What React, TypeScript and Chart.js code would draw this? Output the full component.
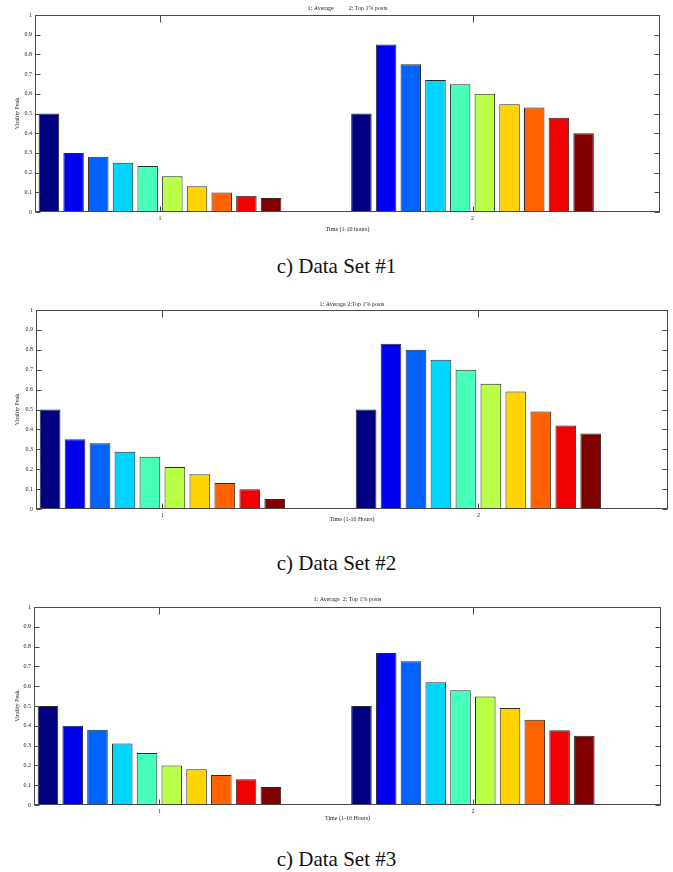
import React, { useEffect, useRef } from 'react';
import { Chart, registerables } from 'chart.js';

Chart.register(...registerables);

// ---------- data ----------
const categoryPositions = [1, 2];
const categoryLabels = ['1', '2'];
const yTicks = [0, 0.1, 0.2, 0.3, 0.4, 0.5, 0.6, 0.7, 0.8, 0.9, 1];
const yTickLabels = ['0', '0.1', '0.2', '0.3', '0.4', '0.5', '0.6', '0.7', '0.8', '0.9', '1'];
const hourLabels = ['1', '2', '3', '4', '5', '6', '7', '8', '9', '10'];
const jetColors = ['#000080', '#0000F0', '#0063FF', '#00D4FF', '#47FFB8', '#B8FF47', '#FFD400', '#FF6300', '#F00000', '#800000'];

const set1Average = [0.5, 0.3, 0.28, 0.25, 0.233, 0.182, 0.131, 0.099, 0.082, 0.071];
const set1Top = [0.5, 0.85, 0.75, 0.67, 0.648, 0.6, 0.547, 0.53, 0.479, 0.4];
const set2Average = [0.5, 0.35, 0.33, 0.288, 0.263, 0.211, 0.174, 0.131, 0.099, 0.05];
const set2Top = [0.5, 0.83, 0.8, 0.75, 0.7, 0.63, 0.59, 0.49, 0.42, 0.38];
const set3Average = [0.5, 0.4, 0.38, 0.31, 0.262, 0.2, 0.18, 0.151, 0.13, 0.091];
const set3Top = [0.5, 0.768, 0.726, 0.62, 0.58, 0.548, 0.49, 0.43, 0.378, 0.35];

const W = 673;
const H = 240;
const SERIF = "'Liberation Serif', 'Times New Roman', serif";

const framePlugin = {
  id: 'matlabFrame',
  afterDatasetsDraw(chart: any) {
    const { ctx, chartArea: a, scales } = chart;
    ctx.save();
    ctx.strokeStyle = '#4a4a4a';
    ctx.lineWidth = 1;
    const l = Math.round(a.left) + 0.5;
    const r = Math.round(a.right) - 0.5;
    const t = Math.round(a.top) + 0.5;
    const b = Math.round(a.bottom) - 0.5;
    ctx.strokeRect(l, t, r - l, b - t);
    ctx.beginPath();
    yTicks.forEach((v) => {
      const y = Math.round(scales.y.getPixelForValue(v)) + 0.5;
      ctx.moveTo(l, y);
      ctx.lineTo(l + 5, y);
      ctx.moveTo(r, y);
      ctx.lineTo(r - 5, y);
    });
    categoryPositions.forEach((v) => {
      const x = Math.round(scales.x.getPixelForValue(v)) + 0.5;
      ctx.moveTo(x, b);
      ctx.lineTo(x, b - 5);
      ctx.moveTo(x, t);
      ctx.lineTo(x, t + 7);
    });
    ctx.stroke();
    ctx.restore();
  },
};

type Area = { left: number; right: number; top: number; bottom: number };

function Panel(props: {
  avg: number[];
  top: number[];
  title: string;
  xTitle: string;
  area: Area;
  titleY: number;
  xTitleY: number;
  canvasTop: number;
}) {
  const ref = useRef<HTMLCanvasElement>(null);
  useEffect(() => {
    const { avg, top, title, xTitle, area, titleY, xTitleY } = props;
    const font = { family: SERIF, size: 6, weight: 'normal' as const, lineHeight: 1.2 };
    const datasets = hourLabels.map((h, k) => ({
      label: h,
      data: categoryPositions.map((x, i) => ({ x, y: i === 0 ? avg[k] : top[k] })),
      backgroundColor: jetColors[k],
      borderColor: '#2a2a2a',
      borderWidth: 1,
      borderSkipped: false,
      categoryPercentage: 0.79,
      barPercentage: 0.83,
    }));
    const titlePadTop = titleY - 3.6;
    const chart = new Chart(ref.current as HTMLCanvasElement, {
      type: 'bar',
      data: { datasets } as any,
      options: {
        animation: false,
        responsive: false,
        maintainAspectRatio: false,
        layout: { padding: { left: 0, right: W - area.right, top: 0, bottom: 0 } },
        plugins: {
          legend: { display: false },
          tooltip: { enabled: false },
          title: {
            display: true,
            text: title,
            fullSize: false,
            color: '#222',
            font,
            padding: { top: titlePadTop, bottom: area.top - titlePadTop - 7.2 },
          },
        },
        scales: {
          x: {
            type: 'linear',
            position: 'bottom',
            offset: false,
            bounds: 'data',
            min: 0.6,
            max: 2.6,
            afterBuildTicks: (s: any) => {
              s.ticks = categoryPositions.map((v) => ({ value: v }));
            },
            ticks: {
              callback: (v: any) => {
                const i = categoryPositions.indexOf(Number(v));
                return i >= 0 ? categoryLabels[i] : '';
              },
              font,
              color: '#222',
              padding: 3,
              maxRotation: 0,
              autoSkip: false,
            },
            grid: { display: false, drawTicks: false, offset: false },
            border: { display: false },
            title: {
              display: true,
              text: xTitle,
              font,
              color: '#222',
              padding: { top: 0, bottom: H - xTitleY - 3.6 },
            },
            afterFit: (s: any) => {
              s.height = H - area.bottom;
            },
          },
          y: {
            type: 'linear',
            min: 0,
            max: 1,
            afterBuildTicks: (s: any) => {
              s.ticks = yTicks.map((v) => ({ value: v }));
            },
            ticks: {
              callback: (_v: any, i: number) => yTickLabels[i],
              font,
              color: '#222',
              padding: 3,
              autoSkip: false,
            },
            grid: { display: false, drawTicks: false },
            border: { display: false },
            title: {
              display: true,
              text: 'Virality Peak',
              font,
              color: '#222',
              padding: { top: 14, bottom: 0 },
            },
            afterFit: (s: any) => {
              s.width = area.left;
            },
          },
        },
      } as any,
      plugins: [framePlugin],
    });
    return () => chart.destroy();
  }, []);
  return (
    <canvas
      ref={ref}
      width={W}
      height={H}
      style={{ position: 'absolute', left: 0, top: props.canvasTop, width: W, height: H }}
    />
  );
}

function Caption({ text, centerY }: { text: string; centerY: number }) {
  return (
    <div
      style={{
        position: 'absolute',
        left: 0,
        width: W,
        top: centerY - 12.5,
        height: 24,
        lineHeight: '24px',
        textAlign: 'center',
        fontFamily: SERIF,
        fontSize: 21,
        color: '#111',
      }}
    >
      {text}
    </div>
  );
}

export default function App() {
  return (
    <div style={{ position: 'absolute', left: 0, top: 0, width: W, height: 872, background: '#fff', overflow: 'hidden' }}>
      <Panel
        avg={set1Average}
        top={set1Top}
        title={'1: Average          2: Top 1% posts'}
        xTitle="Time (1-10 hours)"
        area={{ left: 35, right: 660, top: 15, bottom: 212 }}
        titleY={8}
        xTitleY={229}
        canvasTop={0}
      />
      <Caption text="c) Data Set #1" centerY={266} />
      <Panel
        avg={set2Average}
        top={set2Top}
        title="1: Average 2:Top 1% posts"
        xTitle="Time (1-10 Hours)"
        area={{ left: 36, right: 668, top: 20, bottom: 219 }}
        titleY={14}
        xTitleY={229}
        canvasTop={290}
      />
      <Caption text="c) Data Set #2" centerY={563} />
      <Panel
        avg={set3Average}
        top={set3Top}
        title="1: Average  2: Top 1% posts"
        xTitle="Time (1-10 Hours)"
        area={{ left: 34, right: 661, top: 17, bottom: 215 }}
        titleY={9}
        xTitleY={228}
        canvasTop={590}
      />
      <Caption text="c) Data Set #3" centerY={859} />
    </div>
  );
}
